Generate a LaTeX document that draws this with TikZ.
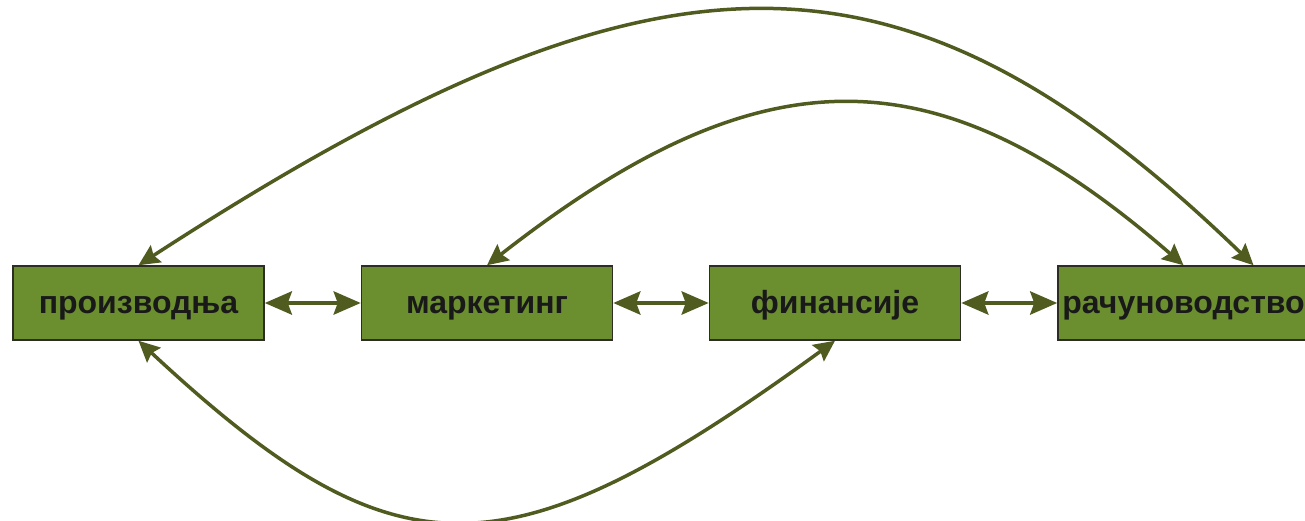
\documentclass[tikz,border=0pt]{standalone}
\usepackage{fontspec}
\setmainfont{Liberation Sans}
\usetikzlibrary{calc}
\usetikzlibrary{arrows.meta}

\definecolor{boxgreen}{RGB}{107,142,47}
\definecolor{arrowgreen}{RGB}{79,91,31}
\definecolor{boxline}{RGB}{45,45,35}

\begin{document}
\begin{tikzpicture}[x=1pt,y=1pt,
	dept/.style={draw=boxline, line width=1.5pt, fill=boxgreen, minimum width=251pt, minimum height=74pt, inner sep=0pt, text height=26pt, text depth=6pt, text=black!90, font=\fontsize{32}{34}\selectfont\bfseries},
	link/.style={draw=arrowgreen, line width=4.5pt, {Stealth[length=27pt,width=23pt,inset=4pt]}-{Stealth[length=27pt,width=23pt,inset=4pt]}},
	curvelink/.style={draw=arrowgreen, line width=3.5pt, {Stealth[length=21pt,width=20pt,inset=3pt]}-{Stealth[length=21pt,width=20pt,inset=3pt]}}]
					\useasboundingbox (0,0) rectangle (1305,520);

					\node[dept] (prod) at (138.5,217) {производња};
					\node[dept] (mark) at (487,217) {маркетинг};
					\node[dept] (fin) at (835,217) {финансије};
					\node[dept] (racun) at (1183.5,217) {рачуноводство};

					\draw[link] (prod) -- (mark);
					\draw[link] (mark) -- (fin);
					\draw[link] (fin) -- (racun);

					% curves over and under the boxes
					\draw[curvelink] (prod.north) .. controls +(522,339) and +(-351,339) .. ([xshift=70pt]racun.north);
					\draw[curvelink] (mark.north) .. controls +(275,215) and +(-247,215) .. (racun.north);
					\draw[curvelink] (prod.south) .. controls +(258,-240) and +(-330,-240) .. (fin.south);
\end{tikzpicture}
\end{document}
